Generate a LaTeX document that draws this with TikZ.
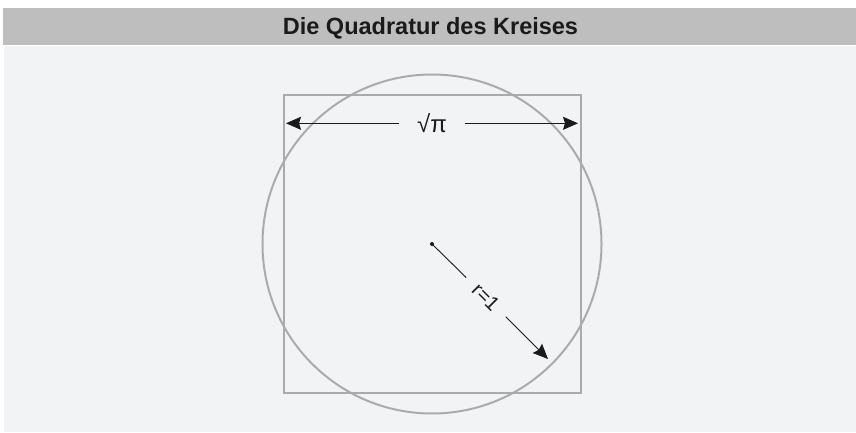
\documentclass[tikz,border=0pt]{standalone}
\usepackage{fontspec}
\setmainfont{Liberation Sans}
\usetikzlibrary{arrows.meta, positioning, calc}
\definecolor{barGray}{HTML}{BEBEBE}
\definecolor{panelBg}{HTML}{F2F3F5}
\definecolor{shapeGray}{HTML}{ABABAB}
\definecolor{inkDark}{HTML}{1A1A1A}
\tikzset{
  shape line/.style={draw=shapeGray, line width=2pt},
  thin ink/.style={draw=inkDark, line width=0.9pt},
  dim arrow/.style={thin ink, -{Stealth[length=15pt,width=13pt,inset=2pt]}},
}

\begin{document}
\begin{tikzpicture}[x=1pt, y=1pt]
    \useasboundingbox (0,0) rectangle (856,432);
    % header bar and panel
    \fill[barGray] (3,387) rectangle (856,424);
    \fill[panelBg] (4,0) rectangle (856,386);
    \node[anchor=base, text=inkDark, font=\bfseries\fontsize{23.5}{27}\selectfont] (title) at (430.5,397.7) {Die Quadratur des Kreises};
    % circle and square of equal area
    \coordinate (ctr) at (432,188);
    \draw[shape line] (ctr) circle (169.5);
    \draw[shape line] (283.5,39.5) rectangle (580.5,336.5);
    % side length
    \coordinate (dimL) at (286,308.7);
    \coordinate (dimR) at (578,308.7);
    \node[anchor=base, inner xsep=17.5pt, text=inkDark, font=\fontsize{24}{28}\selectfont] (sqrtpi) at (432,299.3) {√π};
    \draw[dim arrow] (sqrtpi.west |- dimL) -- (dimL);
    \draw[dim arrow] (sqrtpi.east |- dimR) -- (dimR);
    % radius
    \fill[inkDark] (ctr) circle (2);
    \coordinate (tip) at (548,73);
    \node[rotate=-45, inner xsep=13pt, inner ysep=0pt, text=inkDark, font=\fontsize{20}{24}\selectfont] (rlbl) at (486,135) {r=1};
    \draw[thin ink] (ctr) -- (rlbl);
    \draw[dim arrow] (rlbl) -- (tip);
\end{tikzpicture}
\end{document}
